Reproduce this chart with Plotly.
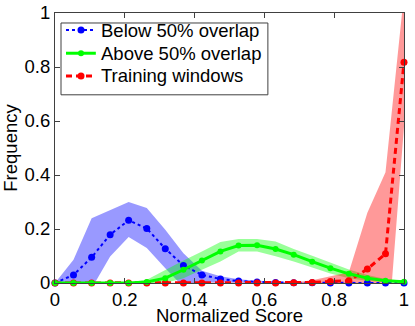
import plotly.graph_objects as go

score = [0, 0.053, 0.105, 0.158, 0.211, 0.263, 0.316, 0.368, 0.421, 0.474,
         0.526, 0.579, 0.632, 0.684, 0.737, 0.789, 0.842, 0.895, 0.947, 1]

below_mean = [0, 0.03, 0.095, 0.179, 0.232, 0.202, 0.127, 0.065, 0.03, 0.015,
              0.007, 0.004, 0.002, 0.001, 0.001, 0, 0, 0, 0, 0]
below_upper = [0, 0.086, 0.24, 0.27, 0.30, 0.278, 0.197, 0.11, 0.045, 0.025,
               0.014, 0.008, 0.005, 0.003, 0.002, 0.001, 0.001, 0.001, 0, 0]
below_lower = [0, -0.05, -0.02, 0.098, 0.17, 0.13, 0.055, -0.015, 0.003, 0.002,
               0.001, 0, 0, 0, 0, 0, 0, 0, 0, 0]

above_mean = [0, 0, 0, 0, 0, 0.004, 0.018, 0.049, 0.083, 0.117,
              0.139, 0.14, 0.126, 0.105, 0.079, 0.055, 0.034, 0.018, 0.008, 0.005]
above_upper = [0, 0, 0, 0, 0.002, 0.012, 0.049, 0.083, 0.117, 0.152,
               0.163, 0.163, 0.154, 0.126, 0.101, 0.075, 0.05, 0.03, 0.015, 0.008]
above_lower = [0, 0, 0, 0, 0, 0, 0, 0.018, 0.049, 0.08,
               0.117, 0.117, 0.099, 0.08, 0.057, 0.035, 0.018, 0.008, 0.003, 0.002]

train_mean = [0, 0, 0, 0, 0, 0, 0, 0, 0, 0,
              0, 0, 0, 0.001, 0.002, 0.006, 0.008, 0.052, 0.108, 0.818]
train_upper = [0, 0, 0, 0, 0, 0, 0, 0, 0, 0,
               0, 0, 0, 0.002, 0.01, 0.025, 0.04, 0.26, 0.41, 1.07]
train_lower = [0, 0, 0, 0, 0, 0, 0, 0, 0, 0,
               0, 0, 0, 0, 0, 0, 0, 0, -0.3, 0.58]

series_names = ["Below 50% overlap", "Above 50% overlap", "Training windows"]

ticks = [0, 0.2, 0.4, 0.6, 0.8, 1]
tick_text = ["0", "0.2", "0.4", "0.6", "0.8", "1"]

FONT = "Liberation Sans, Arial, sans-serif"
FS = 18.5

styles = {
    "Below 50% overlap": dict(color="#0000ff", width=2, dash="dot", msize=7),
    "Above 50% overlap": dict(color="#00ff00", width=3, dash="solid", msize=6),
    "Training windows": dict(color="#ff0000", width=3, dash="6px,4px", msize=7),
}

fig = go.Figure()

# shaded bands (upper edge then lower edge reversed)
for up, lo, col in [(below_upper, below_lower, "rgba(0,0,255,0.4)"),
                    (above_upper, above_lower, "rgba(0,255,0,0.4)"),
                    (train_upper, train_lower, "rgba(255,0,0,0.4)")]:
    fig.add_scatter(x=score + score[::-1], y=up + lo[::-1], mode="lines",
                    fill="toself", fillcolor=col, line=dict(width=0),
                    hoverinfo="skip", showlegend=False)

# mean lines, drawn blue, red, then green on top
for name, ys in [("Below 50% overlap", below_mean),
                 ("Training windows", train_mean),
                 ("Above 50% overlap", above_mean)]:
    st = styles[name]
    fig.add_scatter(x=score, y=ys, mode="lines+markers", name=name, showlegend=False,
                    line=dict(color=st["color"], width=st["width"], dash=st["dash"]),
                    marker=dict(color=st["color"], size=st["msize"]), cliponaxis=False)

axis_style = dict(range=[0, 1], tickvals=ticks, ticktext=tick_text,
                  showgrid=False, zeroline=False, showline=True, mirror="allticks",
                  linecolor="#404040", linewidth=1, ticks="inside", ticklen=5,
                  tickcolor="#404040", tickfont=dict(family=FONT, size=FS, color="black"))

fig.update_xaxes(**axis_style, title=dict(text="Normalized Score", standoff=0,
                                          font=dict(family=FONT, size=FS, color="black")))
fig.update_yaxes(**axis_style, title=dict(text="Frequency", standoff=6,
                                          font=dict(family=FONT, size=FS, color="black")))

# legend box drawn by hand (tighter rows than plotly's own legend)
fig.add_shape(type="rect", xref="paper", yref="paper", x0=0.0172, x1=0.610,
              y0=0.697, y1=0.963, line=dict(color="#404040", width=1),
              fillcolor="white", layer="above")
row_y = [0.937, 0.851, 0.767]
for name, ry in zip(series_names, row_y):
    st = styles[name]
    fig.add_shape(type="line", xref="paper", yref="paper", x0=0.0315, x1=0.117,
                  y0=ry, y1=ry, layer="above",
                  line=dict(color=st["color"], width=st["width"], dash=st["dash"]))
    r = st["msize"] / 2
    fig.add_shape(type="circle", xref="paper", yref="paper", layer="above",
                  xsizemode="pixel", ysizemode="pixel", xanchor=0.0745, yanchor=ry,
                  x0=-r, x1=r, y0=-r, y1=r, fillcolor=st["color"],
                  line=dict(width=0))
    fig.add_annotation(text=name, xref="paper", yref="paper", x=0.127, y=ry,
                       xanchor="left", yanchor="middle", showarrow=False,
                       font=dict(family=FONT, size=FS, color="black"))

fig.update_layout(
    width=415, height=326,
    margin=dict(l=55, r=11, t=13, b=43, autoexpand=False),
    paper_bgcolor="white", plot_bgcolor="white",
    font=dict(family=FONT, size=FS, color="black"),
    showlegend=False, hovermode=False,
)

fig.write_html("out.html", config={"displayModeBar": False, "staticPlot": True},
               post_script="document.body.style.margin='0';")
